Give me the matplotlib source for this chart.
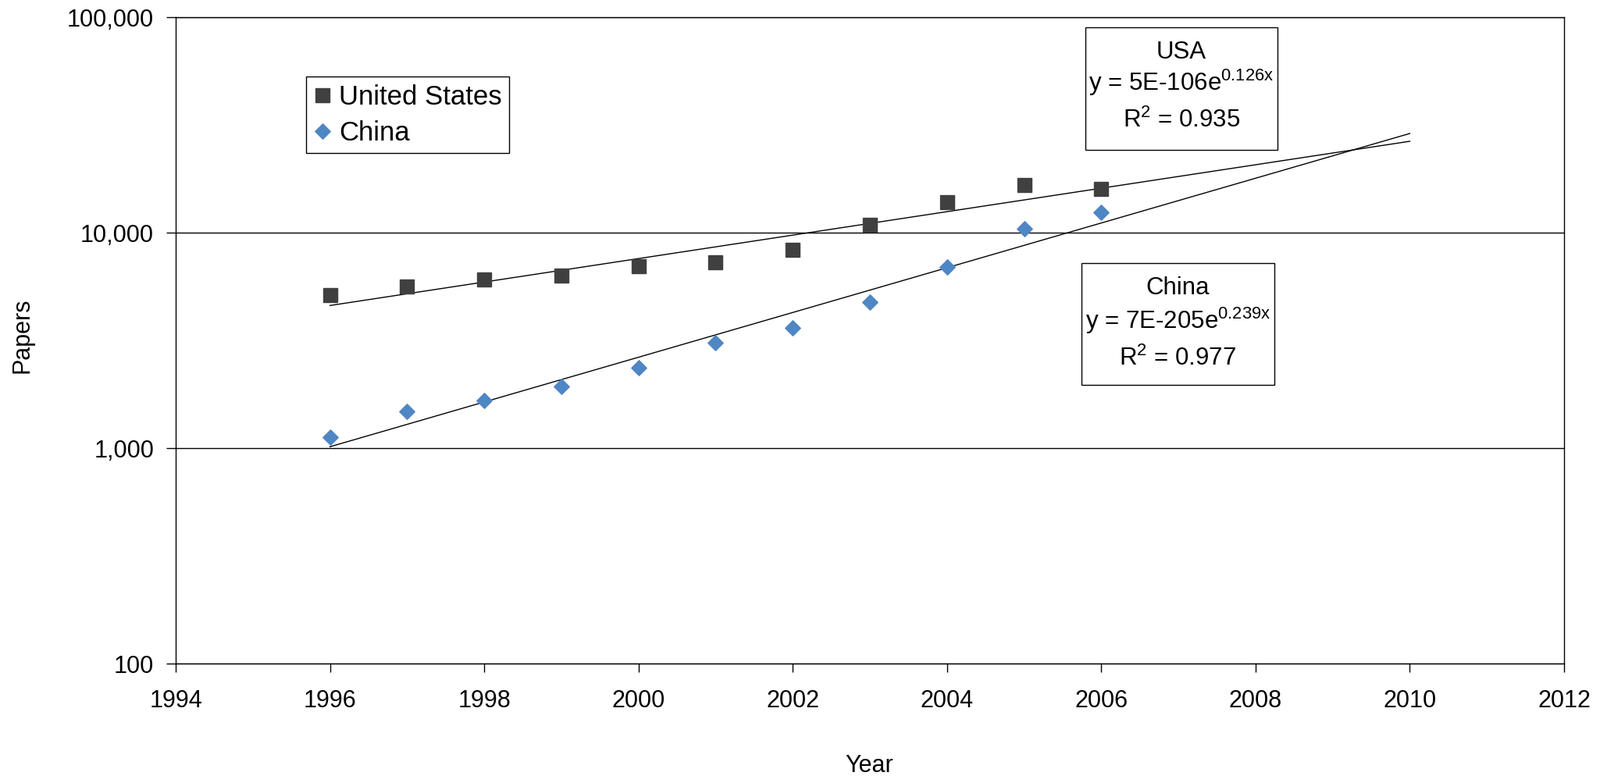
import matplotlib
matplotlib.use("Agg")
import matplotlib.pyplot as plt
import numpy as np
from matplotlib.patches import Rectangle
from matplotlib.path import Path
from matplotlib.ticker import FuncFormatter, NullLocator

plt.rcParams["font.family"] = ["Liberation Sans", "DejaVu Sans"]
plt.rcParams["mathtext.default"] = "regular"

years = [1996, 1997, 1998, 1999, 2000, 2001, 2002, 2003, 2004, 2005, 2006]
us_papers = [5140, 5610, 6050, 6330, 6980, 7290, 8300, 10900, 13870, 16700, 15990]
china_papers = [1128, 1482, 1670, 1925, 2370, 3076, 3620, 4760, 6900, 10440, 12440]
trend_end = 2010

us_box = ["USA", "y = 5E-106e$^{0.126x}$", "R$^{2}$ = 0.935"]
china_box = ["China", "y = 7E-205e$^{0.239x}$", "R$^{2}$ = 0.977"]

US_COLOR = "#404040"
CN_COLOR = "#4F86C4"

W, H = 2049, 994

diamond = Path([(0, 1), (1, 0), (0, -1), (-1, 0), (0, 1)],
               [Path.MOVETO, Path.LINETO, Path.LINETO, Path.LINETO, Path.CLOSEPOLY])


def exp_trend(x, y, x_end):
    slope, icpt = np.polyfit(x, np.log(y), 1)
    xs = np.linspace(x[0], x_end, 50)
    return xs, np.exp(icpt + slope * xs)


fig = plt.figure(figsize=(W / 100, H / 100), dpi=100)
ax = fig.add_axes([225 / W, 1 - 850 / H, 1778 / W, 828 / H])

x = np.array(years, dtype=float)
for vals in (us_papers, china_papers):
    tx, ty = exp_trend(x, np.array(vals, dtype=float), trend_end)
    ax.plot(tx, ty, color="black", lw=1.0, zorder=2)

ax.plot(years, us_papers, ls="none", marker="s", ms=13.5, color=US_COLOR,
        label="United States", zorder=3)
ax.plot(years, china_papers, ls="none", marker=diamond, ms=14, color=CN_COLOR,
        label="China", zorder=3)

ax.set_yscale("log")
ax.set_ylim(100, 100000)
ax.set_xlim(1994, 2012)
ax.set_xticks(range(1994, 2013, 2))
ax.set_yticks([100, 1000, 10000, 100000])
ax.yaxis.set_major_formatter(FuncFormatter(lambda v, p: f"{int(round(v)):,}"))
ax.yaxis.set_minor_locator(NullLocator())
ax.grid(axis="y", which="major", color="black", lw=1.0)
for s in ax.spines.values():
    s.set_linewidth(1.0)
ax.tick_params(axis="both", labelsize=22, direction="out", width=1.0)
ax.tick_params(axis="x", length=8, pad=16)
ax.tick_params(axis="y", length=8.6, pad=11.5)

fig.text(1113.5 / W, 1 - 989 / H, "Year", ha="center", va="baseline", fontsize=22)
fig.text(28 / W, 1 - 430 / H, "Papers", ha="center", va="center", fontsize=22, rotation=90)

leg = ax.legend(loc="upper left", bbox_to_anchor=(391.7 / W, 1 - 98.3 / H),
                bbox_transform=fig.transFigure, borderaxespad=0, fontsize=25,
                fancybox=False, framealpha=1, edgecolor="black",
                handlelength=0.7, handletextpad=0.26, borderpad=0.27,
                labelspacing=0.38)
leg.get_frame().set_linewidth(1.0)


def stat_box(x0, x1, y0, y1, lines, baselines):
    fig.patches.append(Rectangle((x0 / W, 1 - y1 / H), (x1 - x0) / W, (y1 - y0) / H,
                                 transform=fig.transFigure, facecolor="white",
                                 edgecolor="black", lw=1.0, zorder=5))
    for txt, by in zip(lines, baselines):
        fig.text((x0 + x1) / 2 / W, 1 - by / H, txt, ha="center", va="baseline",
                 fontsize=22.5, zorder=6)


stat_box(1390, 1636, 35, 192, us_box, [75, 116, 163])
stat_box(1385, 1632, 337, 493, china_box, [377, 421, 468])

fig.savefig("out.png", dpi=100)
